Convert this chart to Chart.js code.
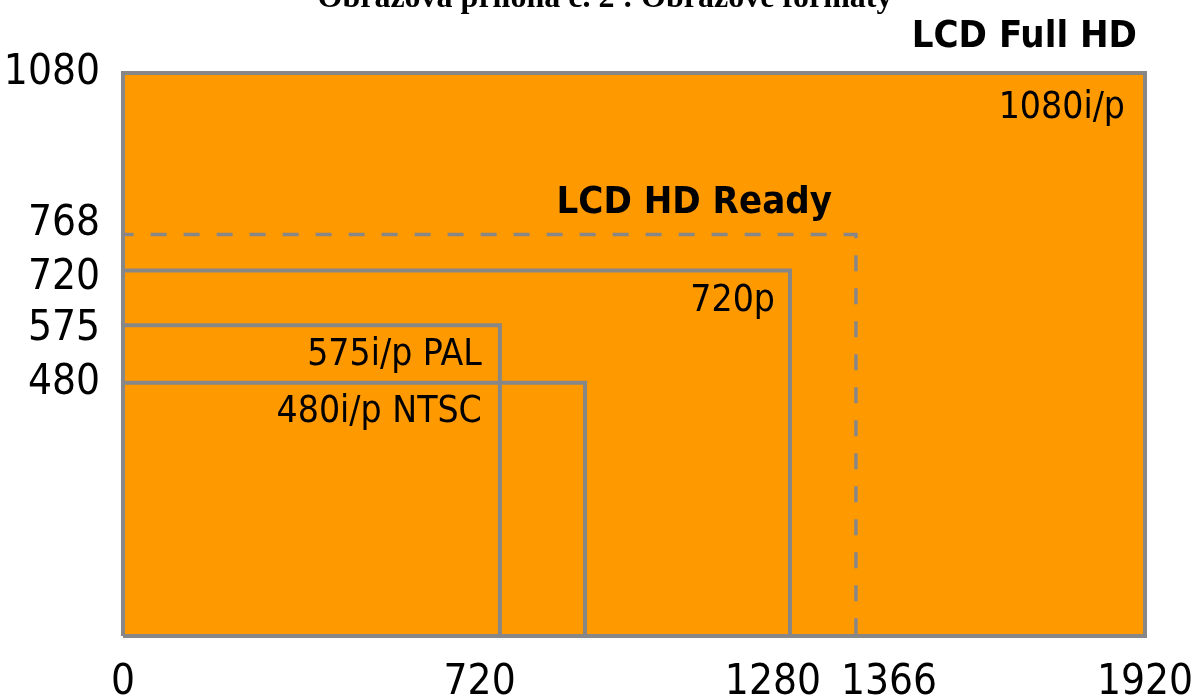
<!DOCTYPE html>
<html>
<head>
<meta charset="utf-8">
<script src="https://cdn.jsdelivr.net/npm/chart.js@4.4.1/dist/chart.umd.min.js"></script>
<style>
  body { margin: 0; background: #fff; }
  canvas { display: block; }
</style>
</head>
<body>
<canvas id="formaty" width="1197" height="699"></canvas>
<script>
// rozmery tak, ako sú nakreslené v obrázku (schéma nie je v mierke)
var formats = ['480i/p NTSC', '575i/p PAL', '720p', 'LCD HD Ready', '1080i/p'];
var drawnWidth = [868, 708, 1253, 1377, 1920];
var drawnHeight = [486, 596, 701, 770, 1080];

// popisy osí: skutočné hodnoty a miesto, kde stoja
var xTickValues = [0, 720, 1280, 1366, 1920];
var xTickPos = [0, 670, 1221, 1439, 1920];
var yTickValues = [480, 575, 720, 768, 1080];
var yTickPos = [485, 588, 687, 791, 1080];

var orange = '#ff9900';
var gray = '#878787';
var fam = "'DejaVu Sans Condensed', 'DejaVu Sans', sans-serif";

function openRect(i) {
    return [{x: 0, y: drawnHeight[i]}, {x: drawnWidth[i], y: drawnHeight[i]}, {x: drawnWidth[i], y: 0}];
}
function closedRect(i) {
    return [{x: 0, y: 0}, {x: 0, y: drawnHeight[i]}, {x: drawnWidth[i], y: drawnHeight[i]}, {x: drawnWidth[i], y: 0}, {x: 0, y: 0}];
}

var base = {showLine: true, pointRadius: 0, pointHoverRadius: 0, tension: 0, fill: false,
            borderColor: gray, borderWidth: 4, clip: false};

var datasets = [
    // oranžová plocha 1920x1080
    Object.assign({}, base, {data: [{x: 0, y: drawnHeight[4]}, {x: drawnWidth[4], y: drawnHeight[4]}],
        fill: 'origin', backgroundColor: orange, borderWidth: 0, order: 10}),
    Object.assign({}, base, {data: closedRect(3), borderDash: [16, 17], borderWidth: 3.5, order: 3}),
    Object.assign({}, base, {data: openRect(2), order: 2}),
    Object.assign({}, base, {data: openRect(1), order: 2}),
    Object.assign({}, base, {data: openRect(0), order: 2}),
    Object.assign({}, base, {data: closedRect(4), order: 0})
];

var labelPlugin = {
    id: 'labels',
    afterDatasetsDraw: function(chart) {
        var ctx = chart.ctx, xs = chart.scales.x, ys = chart.scales.y;
        function px(i) { return xs.getPixelForValue(drawnWidth[i]); }
        function py(i) { return ys.getPixelForValue(drawnHeight[i]); }
        ctx.save();
        ctx.fillStyle = '#000';
        ctx.textAlign = 'right';
        ctx.textBaseline = 'alphabetic';
        ctx.font = '37px ' + fam;
        ctx.fillText(formats[4], px(4) - 20, py(4) + 45);
        ctx.fillText(formats[2], px(2) - 15, py(2) + 40);
        ctx.fillText(formats[1], px(1) - 18, py(1) + 40);
        ctx.fillText(formats[0], px(1) - 18, py(0) + 39);
        ctx.font = 'bold 38px ' + fam;
        ctx.fillText(formats[3], px(3) - 24, py(3) - 22);
        ctx.fillText('LCD Full HD', px(4) - 8, py(4) - 26);
        // nadpis, orezaný horným okrajom
        ctx.textAlign = 'center';
        ctx.font = "bold 32px 'Liberation Serif', serif";
        ctx.fillText('Obrazová príloha č. 2 : Obrazové formáty', 605, 7);
        ctx.restore();
    }
};

new Chart(document.getElementById('formaty'), {
    type: 'scatter',
    data: {datasets: datasets},
    plugins: [labelPlugin],
    options: {
        responsive: false,
        animation: false,
        events: [],
        layout: {padding: {top: 73, right: 52, left: 0, bottom: 0}},
        plugins: {legend: {display: false}, tooltip: {enabled: false}},
        scales: {
            x: {
                type: 'linear', min: 0, max: 1920,
                grid: {display: false, drawTicks: false},
                border: {display: false},
                afterBuildTicks: function(s) { s.ticks = xTickPos.map(function(v) { return {value: v}; }); },
                afterFit: function(s) { s.height = 63; s.paddingLeft = 0; s.paddingRight = 0; },
                ticks: {
                    autoSkip: false, maxRotation: 0, padding: 22, color: '#000',
                    font: {family: fam, size: 42},
                    callback: function(v, i) { return xTickValues[i]; }
                }
            },
            y: {
                type: 'linear', min: 0, max: 1080,
                grid: {display: false, drawTicks: false},
                border: {display: false},
                afterBuildTicks: function(s) { s.ticks = yTickPos.map(function(v) { return {value: v}; }); },
                afterFit: function(s) { s.width = 123; s.paddingTop = 0; s.paddingBottom = 0; },
                ticks: {
                    autoSkip: false, padding: 23, color: '#000',
                    font: {family: fam, size: 42},
                    callback: function(v, i) { return yTickValues[i]; }
                }
            }
        }
    }
});
</script>
</body>
</html>
